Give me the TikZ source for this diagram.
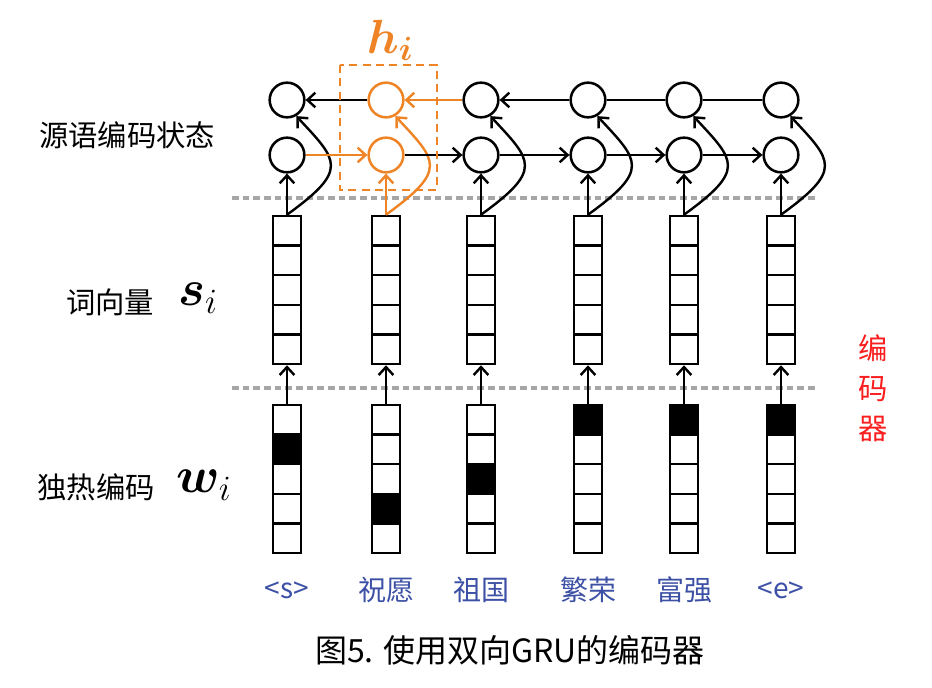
\RequirePackage{fix-cm}
\documentclass[tikz,border=0pt]{standalone}
\usepackage{bm}
\usepackage{fontspec}
\setmainfont{Noto Sans CJK SC}
\usetikzlibrary{arrows.meta}

\definecolor{hiorange}{RGB}{238,132,38}
\definecolor{wordblue}{RGB}{60,80,165}
\definecolor{encred}{RGB}{250,30,30}

\tikzset{
  gru/.style={circle, draw, line width=1.9pt, minimum size=26pt, inner sep=0pt},
  vecbox/.style={draw, line width=1.9pt, minimum width=21pt, minimum height=111pt, inner sep=0pt},
  arr/.style={line width=1.8pt, -{Straight Barb[length=6pt,width=11pt]}},
  sep/.style={gray!70, line width=2.3pt, dash pattern=on 5pt off 3pt},
  lab/.style={font=\fontsize{22}{26}\selectfont},
  mathlab/.style={font=\fontsize{38}{40}\selectfont},
  hilab/.style={text=hiorange, font=\fontsize{36}{38}\selectfont},
  word/.style={text=wordblue, font=\fontsize{21}{24}\selectfont},
}

\begin{document}
\begin{tikzpicture}[x=0.75pt,y=0.75pt,yscale=-1,xscale=1]
\useasboundingbox (0,0) rectangle (932,688);

\draw [sep] (232,198) -- (815,198);
\draw [sep] (232,388) -- (815,388);

\foreach \i/\x/\h/\w/\c in {1/287/2/{<s>}/black, 2/386/4/祝愿/hiorange, 3/481/3/祖国/black,
    4/588/1/繁荣/black, 5/684/1/富强/black, 6/781/1/{<e>}/black} {
  \node [gru, draw=\c] (t\i) at (\x,100) {};
  \node [gru, draw=\c] (b\i) at (\x,155) {};
  \node [vecbox] (v\i) at (\x,290) {};
  \node [vecbox] (o\i) at (\x,479) {};
  \foreach \k in {1,...,4} {
    \draw [line width=1.9pt] (\x-14,216+29.6*\k) -- (\x+14,216+29.6*\k);
    \draw [line width=1.9pt] (\x-14,405+29.6*\k) -- (\x+14,405+29.6*\k);
  }
  \fill (\x-14,375.4+29.6*\h) rectangle (\x+14,405+29.6*\h);
  \node [word] (l\i) at (\x,590) {\w};
  \draw [arr] (o\i) -- (v\i);
  \draw [arr, draw=\c] (v\i) -- (b\i);
  \draw [arr, draw=\c] (v\i.north) .. controls +(62,-45) and +(42,45) .. (t\i.-60);
}

\draw [arr] (t2) -- (t1);
\draw [arr, draw=hiorange] (t3) -- (t2);
\draw [arr] (t4) -- (t3);
\draw [line width=1.8pt] (t5) -- (t4);
\draw [line width=1.8pt] (t6) -- (t5);

\draw [arr, draw=hiorange] (b1) -- (b2);
\foreach \i/\j in {2/3, 3/4, 4/5, 5/6}
  \draw [arr] (b\i) -- (b\j);

\draw [draw=hiorange, line width=1.8pt, dash pattern=on 6pt off 4pt] (340,65) rectangle (437,190);
\node [hilab] (hlab) at (390,40) {$\bm{h}_{\bm{i}}$};

\node [lab] (src) at (127,135) {源语编码状态};
\node [lab] (emb) at (110,302) {词向量};
\node [mathlab] (slab) at (198,298) {$\bm{s}_i$};
\node [lab] (onehot) at (96,487) {独热编码};
\node [mathlab] (wlab) at (204,485) {$\bm{w}_i$};

\node [lab, text=encred, align=center] (enc) at (873,388) {编\\[4pt]码\\[4pt]器};
\node [font=\fontsize{24}{28}\selectfont] (cap) at (510,650) {图5. 使用双向GRU的编码器};

\end{tikzpicture}
\end{document}
